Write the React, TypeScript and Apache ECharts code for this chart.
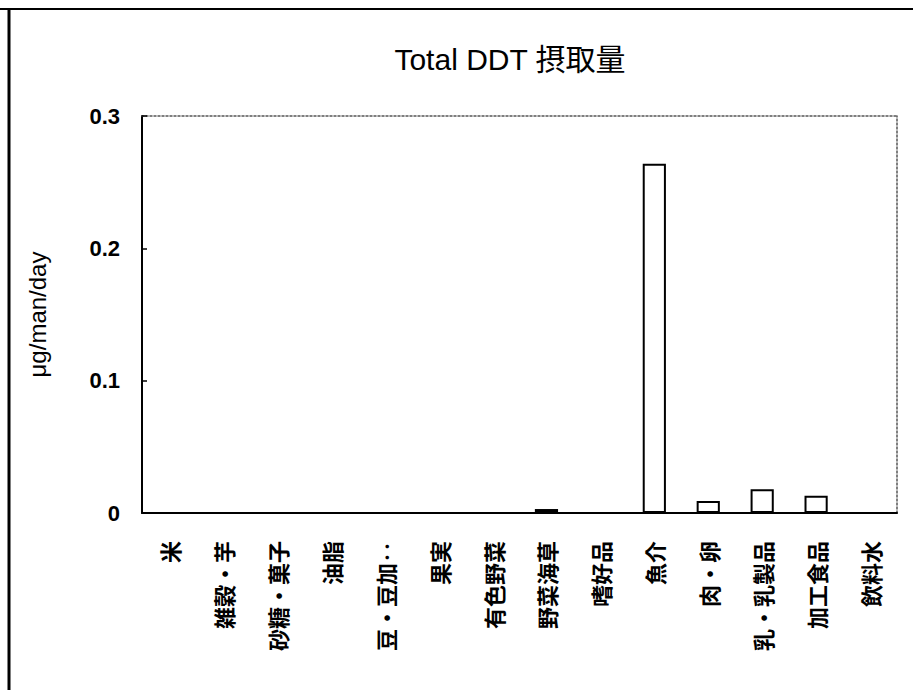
import React, { useEffect, useRef } from "react";
import * as echarts from "echarts";

const categories = [
  "米",
  "雑穀・芋",
  "砂糖・菓子",
  "油脂",
  "豆・豆加‥",
  "果実",
  "有色野菜",
  "野菜海草",
  "嗜好品",
  "魚介",
  "肉・卵",
  "乳・乳製品",
  "加工食品",
  "飲料水",
];
const intake = [0, 0, 0, 0, 0, 0, 0, 0.003, 0, 0.264, 0.009, 0.018, 0.013, 0];
const yTicks = [0, 0.1, 0.2, 0.3];
const titleText = "Total DDT 摂取量";
const yName = "μg/man/day";

export default function App() {
  const ref = useRef<HTMLDivElement>(null);
  useEffect(() => {
    document.body.style.margin = "0";
    const chart = echarts.init(ref.current!, null, { renderer: "svg" });
    const cjk = "'Liberation Sans', 'Noto Sans CJK JP', sans-serif";
    chart.setOption({
      animation: false,
      backgroundColor: "#fff",
      title: {
        text: titleText,
        left: 505,
        top: 39,
        textAlign: "center",
        textStyle: { fontSize: 30, fontWeight: "normal", color: "#000", fontFamily: cjk },
      },
      grid: { left: 142, right: 16, top: 116, bottom: 177 },
      xAxis: [
        {
          type: "category",
          data: categories,
          axisLine: { lineStyle: { color: "#000", width: 2 } },
          axisTick: { inside: true, length: 5, lineStyle: { color: "#000", width: 1.5 } },
          axisLabel: {
            rotate: 90,
            margin: 28,
            interval: 0,
            color: "#000",
            fontSize: 22,
            fontWeight: "bold",
            fontFamily: "'Noto Sans CJK JP', sans-serif",
          },
          splitLine: { show: false },
        },
        {
          type: "category",
          position: "top",
          data: categories,
          axisLine: { onZero: false, lineStyle: { color: "#555", width: 1.5, type: [2, 2] } },
          axisTick: { show: false },
          axisLabel: { show: false },
        },
      ],
      yAxis: [
        {
          type: "value",
          min: yTicks[0],
          max: yTicks[yTicks.length - 1],
          interval: 0.1,
          name: yName,
          nameLocation: "middle",
          nameGap: 93,
          nameTextStyle: { fontSize: 24, color: "#000", fontFamily: "'Liberation Sans', sans-serif" },
          axisLine: { show: true, lineStyle: { color: "#000", width: 2 } },
          axisTick: { show: true, inside: true, length: 5, lineStyle: { color: "#000", width: 1.5 } },
          axisLabel: {
            margin: 22,
            color: "#000",
            fontSize: 22,
            fontWeight: "bold",
            fontFamily: "'Liberation Sans', sans-serif",
            formatter: (v: number) => (v === 0 ? "0" : v.toFixed(1)),
          },
          splitLine: { show: false },
        },
        {
          type: "value",
          position: "right",
          min: 0,
          max: 0.3,
          interval: 0.1,
          axisLine: { show: true, onZero: false, lineStyle: { color: "#555", width: 1.5, type: [2, 2] } },
          axisTick: { show: false },
          axisLabel: { show: false },
          splitLine: { show: false },
        },
      ],
      graphic: [
        { type: "line", shape: { x1: 9, y1: 9, x2: 9, y2: 690 }, style: { stroke: "#000", lineWidth: 3 } },
        { type: "line", shape: { x1: 0, y1: 9, x2: 913, y2: 9 }, style: { stroke: "#000", lineWidth: 2 } },
      ],
      series: [
        {
          type: "bar",
          data: intake,
          barWidth: "43%",
          itemStyle: { color: "#fff", borderColor: "#000", borderWidth: 2 },
        },
      ],
    });
    return () => chart.dispose();
  }, []);
  return <div ref={ref} style={{ width: 913, height: 690, position: "absolute", left: 0, top: 0 }} />;
}
